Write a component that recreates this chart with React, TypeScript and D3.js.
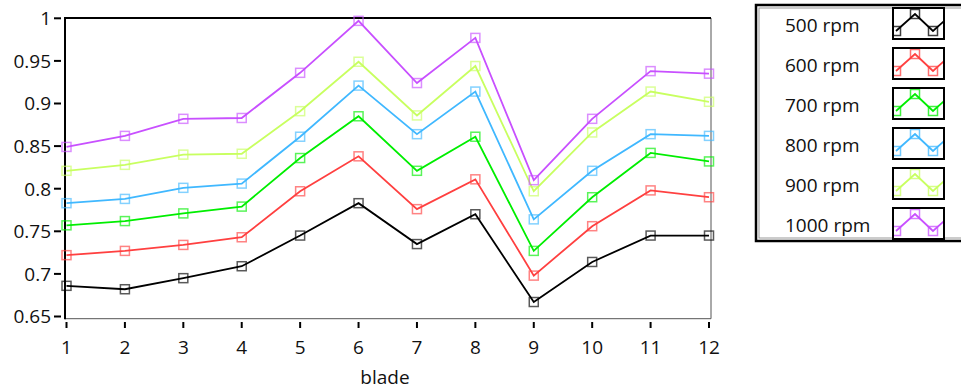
import React from "react";
import * as d3 from "d3";

const blades = [1, 2, 3, 4, 5, 6, 7, 8, 9, 10, 11, 12];
const seriesNames = ["500 rpm", "600 rpm", "700 rpm", "800 rpm", "900 rpm", "1000 rpm"];
const colors = ["#000000", "#ff4040", "#00ee00", "#40b8ff", "#c8ff60", "#c850ff"];
const rpm500 = [0.686, 0.682, 0.695, 0.709, 0.745, 0.783, 0.735, 0.770, 0.667, 0.714, 0.745, 0.745];
const rpm600 = [0.722, 0.727, 0.734, 0.743, 0.797, 0.838, 0.776, 0.811, 0.698, 0.756, 0.798, 0.790];
const rpm700 = [0.757, 0.762, 0.771, 0.779, 0.836, 0.885, 0.821, 0.861, 0.727, 0.790, 0.842, 0.832];
const rpm800 = [0.783, 0.788, 0.801, 0.806, 0.861, 0.921, 0.864, 0.914, 0.764, 0.821, 0.864, 0.862];
const rpm900 = [0.821, 0.828, 0.840, 0.841, 0.891, 0.949, 0.886, 0.944, 0.797, 0.866, 0.914, 0.902];
const rpm1000 = [0.849, 0.862, 0.882, 0.883, 0.936, 0.997, 0.924, 0.977, 0.810, 0.882, 0.938, 0.935];
const allSeries = [rpm500, rpm600, rpm700, rpm800, rpm900, rpm1000];
const yTicks = [0.65, 0.7, 0.75, 0.8, 0.85, 0.9, 0.95, 1];
const yTickLabels = ["0.65", "0.7", "0.75", "0.8", "0.85", "0.9", "0.95", "1"];
const xLabel = "blade";

const FONT = "'Open Sans', 'Noto Sans', sans-serif";
const FS = 19;

export default function App() {
  const W = 961, H = 391;
  const left = 65, top = 18, right = 711, bottom = 318.7;
  const x = d3.scaleLinear().domain([1, 12]).range([66.5, 709]);
  const y = d3.scaleLinear().domain([0.65, 1]).range([316.5, 18.3]);
  const line = d3.line<number>().x((_, i) => x(blades[i])).y((d) => y(d));

  // legend
  const lgX = 756, lgY = 5, lgH = 236;
  const iconX = 893, iconW = 51, iconH = 31, iconY0 = 8, rowStep = 40;
  const iconPts = [[3, 23], [22, 6], [40, 23], [59, 6]];
  const iconLine = d3.line<number[]>().x((d) => d[0]).y((d) => d[1]);

  return (
    <svg width={W} height={H} style={{ position: "absolute", left: 0, top: 0, background: "#fff" }}>
      <defs>
        <clipPath id="plotclip">
          <rect x={left - 6} y={top - 6} width={right - left + 12} height={bottom - top + 12} />
        </clipPath>
        {seriesNames.map((_, i) => (
          <clipPath id={`iconclip${i}`} key={i}>
            <rect x={0} y={0} width={iconW} height={iconH} />
          </clipPath>
        ))}
      </defs>
      {/* frame */}
      <line x1={left} y1={bottom} x2={right} y2={bottom} stroke="#555" strokeWidth={1} />
      <line x1={right} y1={top} x2={right} y2={bottom} stroke="#555" strokeWidth={1} />
      <line x1={left} y1={top} x2={right} y2={top} stroke="#000" strokeWidth={2} />
      <line x1={left} y1={top - 1} x2={left} y2={bottom + 0.5} stroke="#000" strokeWidth={2} />
      {/* y ticks */}
      {yTicks.map((t, i) => (
        <g key={t}>
          <line x1={54} x2={61} y1={y(t)} y2={y(t)} stroke="#000" strokeWidth={2} />
          <text x={51} y={y(t) + 6.8} textAnchor="end" fontFamily={FONT} fontSize={FS} fill="#111">
            {yTickLabels[i]}
          </text>
        </g>
      ))}
      {/* x ticks */}
      {blades.map((b) => (
        <g key={b}>
          <line x1={x(b)} x2={x(b)} y1={322} y2={328} stroke="#000" strokeWidth={2} />
          <text x={x(b)} y={354} textAnchor="middle" fontFamily={FONT} fontSize={FS} fill="#111">
            {b}
          </text>
        </g>
      ))}
      <text x={385} y={384} textAnchor="middle" fontFamily={FONT} fontSize={FS} fill="#111">
        {xLabel}
      </text>
      {/* series */}
      <g clipPath="url(#plotclip)">
        {allSeries.map((s, si) => (
          <g key={si}>
            <path d={line(s) || ""} fill="none" stroke={colors[si]} strokeWidth={1.8} />
            {s.map((v, i) => (
              <rect
                key={i}
                x={x(blades[i]) - 4.5}
                y={y(v) - 4.5}
                width={9}
                height={9}
                fill="none"
                stroke={colors[si]}
                strokeOpacity={0.65}
                strokeWidth={1.5}
              />
            ))}
          </g>
        ))}
      </g>
      {/* legend */}
      <rect x={lgX} y={lgY} width={W - lgX + 10} height={lgH} fill="#fff" stroke="#000" strokeWidth={2.5} />
      <rect x={lgX + 3} y={lgY + 3} width={W - lgX + 10} height={lgH - 6} fill="none" stroke="#999" strokeWidth={1} />
      {seriesNames.map((name, i) => {
        const iy = iconY0 + i * rowStep;
        return (
          <g key={name}>
            <text x={785} y={iy + 24} fontFamily={FONT} fontSize={FS} fill="#111">
              {name}
            </text>
            <g transform={`translate(${iconX},${iy})`}>
              <rect x={0} y={0} width={iconW} height={iconH} fill="#fff" />
              <g clipPath={`url(#iconclip${i})`}>
                <path d={iconLine(iconPts) || ""} fill="none" stroke={colors[i]} strokeWidth={1.8} />
                {iconPts.map((p, k) => (
                  <rect
                    key={k}
                    x={p[0] - 4.5}
                    y={p[1] - 4.5}
                    width={9}
                    height={9}
                    fill="none"
                    stroke={colors[i]}
                    strokeOpacity={0.75}
                    strokeWidth={1.5}
                  />
                ))}
              </g>
              <rect x={0} y={0} width={iconW} height={iconH} fill="none" stroke="#000" strokeWidth={2} />
            </g>
          </g>
        );
      })}
    </svg>
  );
}
